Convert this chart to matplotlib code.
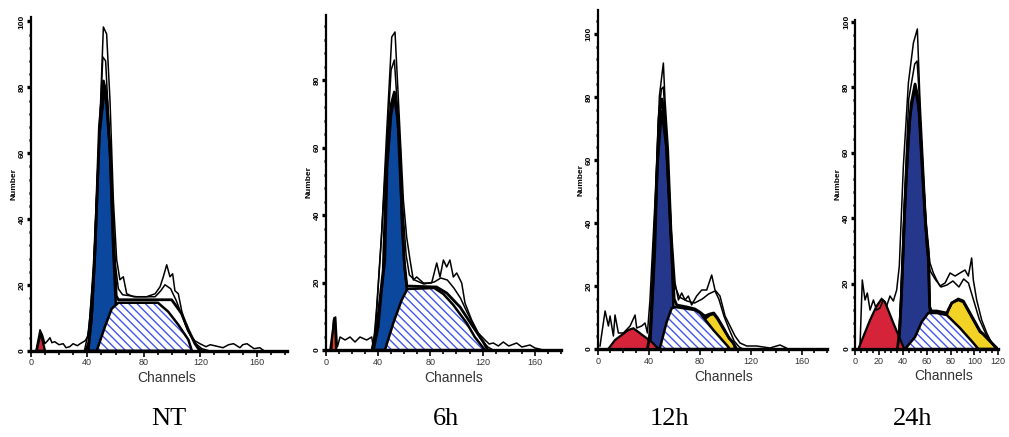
import numpy as np
import matplotlib.pyplot as plt
import matplotlib
from matplotlib.ticker import MultipleLocator

matplotlib.rcParams['hatch.linewidth'] = 1.0
matplotlib.rcParams['font.family'] = ['Liberation Sans', 'DejaVu Sans']

# ---- data: (channel, count) pairs ----
# NT
nt_raw = [(3.7, 0), (6.6, 21), (8.5, 15), (10, 7), (12, 10), (13.6, 13), (15, 8), (17, 9), (20, 6), (23, 7),
          (25, 3), (27.6, 4), (30, 7), (33, 5), (35, 7), (38.5, 10), (40.3, 14), (41.9, 34), (44.3, 84),
          (48.8, 224), (51.4, 324), (53.7, 317), (56.1, 250), (58.5, 150), (60.8, 91), (63.1, 71),
          (65.5, 74), (67.9, 57), (72.6, 54), (82, 54), (88, 57), (91.5, 64), (93.8, 74), (96.2, 86),
          (98.5, 74), (100.4, 77), (102, 60), (104.4, 57), (106.8, 40), (109.2, 27), (112.6, 17), (116, 10),
          (119.7, 7), (124, 4), (127, 6), (130, 5), (136, 3), (140, 6), (143.5, 7), (148, 3), (150, 6),
          (153, 7), (158, 2), (162, 3), (165, 0)]
nt_raw2 = [(38, 0), (41, 20), (44.5, 80), (48.5, 215), (51, 294), (53, 290), (55.5, 220), (58, 140),
           (60, 85), (62, 62), (65, 56), (75, 54), (88, 54), (92, 60), (95, 66), (99, 62), (103, 50),
           (107, 35), (111, 20), (116, 8), (121, 2), (126, 0)]
nt_fit = [(39, 0), (41, 8), (43, 33), (45.5, 100), (48.6, 225), (51.5, 270), (54, 250), (56.5, 190),
          (58.5, 110), (60.5, 55), (62, 51), (99.7, 51), (106.8, 37), (111.5, 21), (116.2, 7),
          (118.6, 2), (121, 0)]
nt_g1 = [(40.8, 0), (43.1, 33), (45.5, 100), (48.7, 217), (52.6, 266), (56, 201), (58.4, 100),
         (60.1, 50), (61.5, 0)]
nt_s = [(46.7, 0), (52.5, 24), (57.3, 42), (62, 48), (90, 48), (97.3, 39), (104.4, 26), (111.5, 11),
        (114, 0)]
nt_sub = [(4.2, 0), (7.1, 18), (10.1, 0)]

# 6h
h6_raw = [(4.6, 0), (5.9, 30), (7.6, 33), (8.9, 3), (11, 13), (14.8, 10), (18.6, 13), (22.4, 8),
          (26.2, 13), (31.3, 10), (35.2, 13), (36.4, 3), (39, 43), (42.8, 117), (46.6, 217), (50.5, 313),
          (53, 318), (55.6, 250), (59.4, 150), (61.9, 113), (64.5, 90), (67, 70), (69.6, 73), (74.7, 67),
          (81, 67), (84.9, 87), (87.4, 73), (90, 90), (92.5, 83), (95, 90), (97.6, 73), (100.2, 77),
          (104, 67), (106.5, 47), (111.6, 30), (116.7, 17), (121.8, 10), (125, 6), (128.2, 7), (132, 4),
          (135.8, 8), (140, 4), (146, 7), (150, 3), (156.2, 5), (160, 2), (166.4, 0)]
h6_raw2 = [(35, 0), (38, 20), (42, 100), (46.6, 200), (50, 280), (52.5, 290), (55, 240), (58.5, 150),
           (61.5, 95), (64, 75), (68, 70), (75, 66), (83, 68), (88, 72), (93, 70), (98, 62), (103, 52),
           (108, 38), (113, 25), (118, 12), (124, 3), (128, 0)]
h6_fit = [(35.5, 0), (38.5, 15), (41, 45), (44, 80), (46.5, 185), (50, 245), (52.5, 258), (55, 235),
          (57.5, 160), (60, 90), (62, 64), (84.8, 63), (92.5, 57), (102.7, 43), (112.8, 23),
          (120.5, 8), (123, 2), (124, 0)]
h6_g1 = [(36.6, 0), (40.2, 23), (42.8, 60), (45.3, 90), (47, 183), (50, 235), (52.5, 253), (55, 230),
         (56.8, 200), (58.5, 120), (60.5, 80), (61.9, 63), (63, 0)]
h6_s = [(45.3, 0), (51.7, 27), (58.1, 50), (62.4, 61), (83, 62), (90, 56), (97.6, 45), (107.8, 27),
        (114, 13), (120.5, 2), (121.5, 0)]
h6_sub = [(3.5, 0), (6.5, 30), (7, 33), (8, 0)]

# 12h
h12_raw = [(1.8, 3), (5.8, 38), (8.4, 23), (9.7, 33), (12.3, 13), (13.6, 34), (16.2, 16), (20.1, 16),
           (25.4, 23), (29.3, 34), (30.6, 21), (34.5, 23), (37.1, 26), (39, 16), (41, 49), (45, 149),
           (48.4, 253), (51.5, 286), (52.8, 249), (55.4, 199), (58, 116), (60.7, 66), (63.3, 49),
           (65.9, 56), (68.5, 49), (71.1, 53), (73.7, 44), (77.6, 53), (81.6, 59), (85.5, 59),
           (89.4, 74), (92, 59), (95.9, 53), (99.9, 33), (103.8, 23), (107.7, 13), (111.6, 6),
           (116.9, 3), (124.7, 3), (135, 1), (143, 4), (148, 1)]
h12_raw2 = [(39, 0), (41, 20), (44, 100), (47.5, 230), (50, 260), (51.5, 262), (54, 210), (57, 120),
            (60, 65), (64, 52), (70, 48), (76, 46), (82, 50), (87, 55), (92, 58), (95, 50), (99, 33),
            (103, 20), (107, 8), (111, 2), (114, 0)]
h12_fit = [(39, 0), (41, 15), (43, 60), (46, 160), (48.5, 235), (50.5, 250), (53, 225), (56, 150),
           (58.5, 85), (60, 50), (62, 44), (70, 42), (76.3, 40), (80, 37), (84, 33), (88, 35),
           (91, 36), (94, 31), (98.6, 21), (103, 11), (106.4, 6), (109, 0)]
h12_g1 = [(41, 0), (42.3, 32), (44.9, 99), (46.8, 183), (50.2, 239), (54.1, 199), (58, 99),
          (59.3, 46), (61, 0)]
h12_s = [(48, 0), (49, 2), (54.1, 27), (58, 40.7), (61, 42), (76.3, 39), (80.2, 36), (90.7, 19),
         (102.5, 2), (103.5, 0)]
h12_sub = [(8.3, 0), (13.6, 9), (18.8, 14), (24, 19), (28, 20.7), (31.9, 17), (37.1, 12), (42.4, 7),
           (47.6, 0)]
h12_g2 = [(84, 0), (84, 30), (88, 34), (91, 35), (94, 30), (98.6, 20), (103, 11), (106.4, 5.7),
          (108, 0)]

# 24h
h24_raw = [(4.2, 3), (6.1, 69), (8.4, 49), (10.3, 56), (12.6, 39), (15.4, 49), (18.1, 39), (20.9, 41),
           (23.7, 49), (26.5, 43), (29.3, 53), (32.1, 48), (34.9, 59), (37.1, 83), (40.5, 183),
           (44.7, 266), (48.9, 306), (52.2, 320), (54.4, 249), (57.2, 183), (60, 116), (62.8, 86),
           (65.6, 76), (68.4, 69), (71.2, 63), (75.4, 66), (79.6, 76), (83.8, 73), (87.9, 76),
           (92.1, 79), (94.9, 73), (97.7, 91), (99.1, 69), (101.9, 49), (106.1, 29), (110.3, 16),
           (114.5, 6), (117.3, 1)]
h24_raw2 = [(36, 0), (38, 45), (41, 140), (45, 250), (50, 285), (52, 288), (54, 250), (57, 160),
            (60, 100), (63, 78), (67, 70), (72, 62), (77, 64), (82, 68), (87, 62), (91, 70), (95, 66),
            (99, 50), (104, 30), (110, 14), (116, 4), (119, 0)]
h24_fit = [(35.5, 0), (37.5, 20), (39, 55), (41, 120), (44, 200), (47, 245), (50.3, 265), (53, 250),
           (56.5, 175), (59, 125), (61.4, 90), (62.5, 42), (64, 38), (68.4, 38), (76.8, 36),
           (78.5, 40), (81, 46), (86.5, 50), (90.7, 48), (97.7, 33), (104.7, 18), (114.5, 6),
           (118.7, 1), (119.5, 0)]
h24_g1 = [(36.5, 0), (38.3, 40), (40.5, 99), (42, 150), (46.1, 233), (50.3, 263), (53.9, 236),
          (57, 170), (59, 130), (61.4, 99), (62.8, 37), (64, 0)]
h24_s = [(43, 0), (43.3, 2), (50.3, 12), (55.8, 27), (61.4, 36), (68.4, 36), (76.8, 34), (87.9, 21),
         (99.1, 6), (103.3, 0)]
h24_sub = [(2.8, 0), (12.6, 29), (18.1, 43), (22.3, 50), (25.1, 47), (32.1, 26), (40.5, 2), (42, 0)]
h24_g2 = [(76, 0), (76.5, 33), (78.2, 39), (81, 46), (86.5, 49), (90.7, 47), (92.1, 44), (97.7, 32),
          (104.7, 17), (107.5, 15), (114.5, 6), (118.7, 1), (119.5, 0)]

titles = ['NT', '6h', '12h', '24h']
title_x = [168.5, 446, 669, 913]

# ---- layout (pixels of a 1009x437 canvas) ----
W, H = 1009, 437
fig = plt.figure(figsize=(W / 100, H / 100), dpi=100)


def make_ax(left, base, right, top):
    return fig.add_axes([left / W, (H - base) / H, (right - left) / W, (base - top) / H])


panels = [
    dict(ax=make_ax(30.7, 350.7, 286.6, 17), xmax=181, xmaj=40, xmin=10, ymax=334, ystep=65.9,
         lab=0.533, raw=nt_raw, raw2=nt_raw2, fit=nt_fit, g1=nt_g1, s=nt_s, sub=nt_sub, g2=None,
         blue='#0b479d', red='#c22a3a'),
    dict(ax=make_ax(325.7, 350, 561.1, 15), xmax=180, xmaj=40, xmin=10, ymax=335, ystep=67.5,
         lab=0.544, raw=h6_raw, raw2=h6_raw2, fit=h6_fit, g1=h6_g1, s=h6_s, sub=h6_sub, g2=None,
         blue='#0b479d', red='#e2411c'),
    dict(ax=make_ax(597.7, 349, 827.2, 10), xmax=180, xmaj=40, xmin=10, ymax=339, ystep=63,
         lab=0.55, raw=h12_raw, raw2=h12_raw2, fit=h12_fit, g1=h12_g1, s=h12_s, sub=h12_sub, g2=h12_g2,
         blue='#25378b', red='#d5233a'),
    dict(ax=make_ax(855, 349, 998.3, 20), xmax=120, xmaj=20, xmin=5, ymax=329, ystep=65.5,
         lab=0.617, raw=h24_raw, raw2=h24_raw2, fit=h24_fit, g1=h24_g1, s=h24_s, sub=h24_sub, g2=h24_g2,
         blue='#25378b', red='#d5233a'),
]

for p in panels:
    ax = p['ax']

    def xy(pts):
        a = np.array(pts, dtype=float)
        return a[:, 0], a[:, 1]

    # G2 (stacked on S) and G1 go underneath the hatched S-phase
    if p['g2'] is not None:
        x, y = xy(p['g2'])
        ax.fill(x, y, facecolor='#f2d325', edgecolor='black', lw=1.8, zorder=2)
    x, y = xy(p['g1'])
    ax.fill(x, y, facecolor=p['blue'], edgecolor='black', lw=1.8, zorder=2)
    x, y = xy(p['s'])
    ax.fill(x, y, facecolor='white', edgecolor='#4556ec', hatch='\\' * 4, lw=0, zorder=3)
    ax.fill(x, y, fill=False, edgecolor='black', lw=1.8, zorder=4)
    x, y = xy(p['sub'])
    ax.fill(x, y, facecolor=p['red'], edgecolor='black', lw=1.6, zorder=3)

    x, y = xy(p['fit'])
    ax.plot(x, y, color='black', lw=2.0, zorder=5)
    x, y = xy(p['raw2'])
    ax.plot(x, y, color='black', lw=1.1, zorder=6)
    x, y = xy(p['raw'])
    ax.plot(x, y, color='black', lw=1.1, zorder=6)

    ax.set_xlim(0, p['xmax'])
    ax.set_ylim(0, p['ymax'])
    for side in ['top', 'right']:
        ax.spines[side].set_visible(False)
    ax.spines['left'].set_linewidth(1.6)
    ax.spines['bottom'].set_linewidth(2.4)

    ax.xaxis.set_major_locator(MultipleLocator(p['xmaj']))
    ax.xaxis.set_minor_locator(MultipleLocator(p['xmin']))
    ax.tick_params(axis='x', which='major', length=4, width=1.2, labelsize=6.5, pad=1.5,
                   labelcolor='#333333')
    ax.tick_params(axis='x', which='minor', length=3, width=1.2)

    yt = np.arange(0, p['ymax'], p['ystep'])
    ax.set_yticks(yt)
    ax.set_yticklabels([str(20 * i) for i in range(len(yt))], rotation=90, fontsize=6,
                       fontweight='bold', va='center')
    ax.yaxis.set_minor_locator(MultipleLocator(p['ystep'] / 5))
    ax.tick_params(axis='y', which='major', length=3, width=2.4, pad=0.5)
    ax.tick_params(axis='y', which='minor', length=1.8, width=2.0)

    ax.set_xlabel('Channels', fontsize=10, color='#333333')
    ax.xaxis.set_label_coords(p['lab'], -0.062)
    ax.set_ylabel('Number', fontsize=6, fontweight='bold', labelpad=1)

for t, x in zip(titles, title_x):
    fig.text(x / W, 1 - 419 / H, t, ha='center', va='center', fontsize=19,
             family=['Liberation Serif', 'DejaVu Serif'])

fig.savefig('out.png', dpi=100)
